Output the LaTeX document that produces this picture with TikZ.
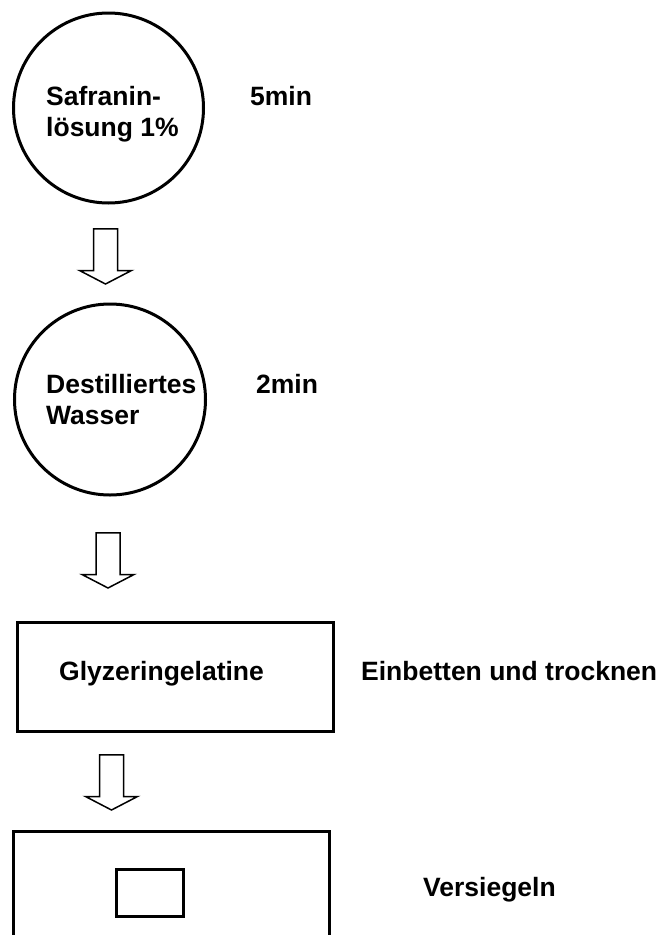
\documentclass[tikz,border=0pt]{standalone}
\usepackage{fontspec}
\setmainfont{Liberation Sans}
\begin{document}
\begin{tikzpicture}[x=1pt,y=-1pt,
  stage/.style={draw, line width=3pt, inner sep=0pt},
  roundstage/.style={stage, circle, minimum size=190pt},
  boxstage/.style={stage, rectangle, minimum width=316pt, minimum height=109pt},
  lbl/.style={font=\fontsize{26.5}{31}\selectfont\bfseries, inner sep=0pt, anchor=base west, align=left},
  arrowline/.style={draw, line width=1.5pt, fill=white, line join=miter},
  blockarrow/.pic={\path[arrowline] (-12,0.75) -- (12,0.75) -- (12,42.5) -- (26,42.5) -- (0,56) -- (-26,42.5) -- (-12,42.5) -- cycle;}
]
\path[use as bounding box, clip] (0,0) rectangle (659,935);
\fill[white] (0,0) rectangle (659,935);

% stage 1
\node[roundstage] (c1) at (108.5,108) {};
\node[lbl] (t1) at (46,105) {\begin{tabular}[t]{@{}l@{}}Safranin-\\lösung 1\%\end{tabular}};
\node[lbl] (d1) at (250,105) {5min};

\pic (a1) at (105.5,228) {blockarrow};

% stage 2
\node[roundstage, minimum size=191pt] (c2) at (110,399.5) {};
\node[lbl] (t2) at (46,393) {\begin{tabular}[t]{@{}l@{}}Destilliertes\\Wasser\end{tabular}};
\node[lbl] (d2) at (256,393) {2min};

\pic (a2) at (108,532) {blockarrow};

% stage 3
\node[boxstage] (b1) at (175.5,677) {};
\node[lbl] (t3) at (59,680) {Glyzeringelatine};
\node[lbl] (d3) at (361,680) {Einbetten und trocknen};

\pic (a3) at (111.5,754) {blockarrow};

% stage 4
\node[boxstage, minimum height=140pt] (b2) at (171.5,901.5) {};
\node[stage, rectangle, minimum width=67pt, minimum height=47pt] (slide) at (150,893) {};
\node[lbl] (d4) at (423,896) {Versiegeln};
\end{tikzpicture}
\end{document}
